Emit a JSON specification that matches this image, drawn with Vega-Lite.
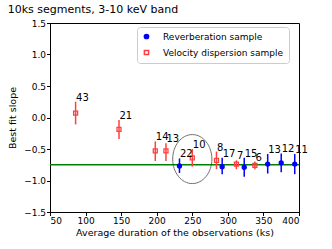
{
  "$schema": "https://vega.github.io/schema/vega-lite/v6.json",
  "autosize": "none",
  "width": 249,
  "height": 189,
  "padding": {"left": 50, "top": 23, "right": 33, "bottom": 37},
  "background": "white",
  "config": {
    "font": "DejaVu Sans",
    "view": {"stroke": "black", "strokeWidth": 1},
    "axis": {"grid": false, "domainColor": "black", "tickColor": "black", "labelColor": "black", "titleColor": "black", "labelFontSize": 9, "titleFontSize": 9.5, "titleFontWeight": "normal", "tickSize": 3.5, "labelPadding": 1, "labelOverlap": false},
    "legend": {"orient": "none", "fillColor": "white", "strokeColor": "#cccccc", "cornerRadius": 3, "padding": 5, "labelFontSize": 9, "labelColor": "black", "rowPadding": 5, "symbolSize": 18, "labelOffset": 12}
  },
  "title": {"text": "10ks segments, 3-10 keV band", "anchor": "start", "fontSize": 11, "fontWeight": "normal", "offset": 4, "color": "black"},
  "datasets": {
    "pts": [
      {"group": "Velocity dispersion sample", "x": 86, "y": 0.07, "hi": 0.25, "lo": -0.11, "label": "43"},
      {"group": "Velocity dispersion sample", "x": 147, "y": -0.19, "hi": -0.04, "lo": -0.34, "label": "21"},
      {"group": "Velocity dispersion sample", "x": 198, "y": -0.53, "hi": -0.38, "lo": -0.69, "label": "14"},
      {"group": "Velocity dispersion sample", "x": 213, "y": -0.53, "hi": -0.41, "lo": -0.69, "label": "13"},
      {"group": "Velocity dispersion sample", "x": 250, "y": -0.64, "hi": -0.5, "lo": -0.78, "label": "10"},
      {"group": "Velocity dispersion sample", "x": 284, "y": -0.68, "hi": -0.54, "lo": -0.82, "label": "8"},
      {"group": "Velocity dispersion sample", "x": 312, "y": -0.74, "hi": -0.68, "lo": -0.82, "label": "7"},
      {"group": "Velocity dispersion sample", "x": 338, "y": -0.76, "hi": -0.7, "lo": -0.82, "label": "6"},
      {"group": "Reverberation sample", "x": 232, "y": -0.77, "hi": -0.65, "lo": -0.88, "label": "22"},
      {"group": "Reverberation sample", "x": 292, "y": -0.78, "hi": -0.64, "lo": -0.9, "label": "17"},
      {"group": "Reverberation sample", "x": 323, "y": -0.79, "hi": -0.64, "lo": -0.94, "label": "15"},
      {"group": "Reverberation sample", "x": 356, "y": -0.74, "hi": -0.58, "lo": -0.89, "label": "13"},
      {"group": "Reverberation sample", "x": 375, "y": -0.72, "hi": -0.57, "lo": -0.87, "label": "12"},
      {"group": "Reverberation sample", "x": 394, "y": -0.74, "hi": -0.58, "lo": -0.9, "label": "11"}
    ],
    "ring": [{"x": 250, "y": -0.66}],
    "fit": [{"x": 50, "x2": 400, "y": -0.75}]
  },
  "encoding": {
    "x": {"field": "x", "type": "quantitative", "scale": {"domain": [50, 400], "nice": false, "zero": false}, "axis": {"title": "Average duration of the observations (ks)", "tickCount": 7, "titlePadding": 2, "labelOverlap": false}},
    "y": {"field": "y", "type": "quantitative", "scale": {"domain": [-1.5, 1.5], "nice": false, "zero": false}, "axis": {"title": "Best fit slope", "tickCount": 6, "format": ".1f", "titlePadding": 6, "labelOverlap": false}}
  },
  "layer": [
    {
      "data": {"name": "ring"},
      "mark": {"type": "point", "filled": false, "stroke": "#333333", "strokeWidth": 1, "size": 2401, "shape": "M 0 -1 C 0.442 -1 0.8 -0.552 0.8 0 C 0.8 0.552 0.442 1 0 1 C -0.442 1 -0.8 0.552 -0.8 0 C -0.8 -0.552 -0.442 -1 0 -1 Z"}
    },
    {
      "data": {"name": "fit"},
      "mark": {"type": "rule", "color": "#008000", "strokeWidth": 1.5},
      "encoding": {"x2": {"field": "x2"}}
    },
    {
      "data": {"name": "pts"},
      "mark": {"type": "rule", "strokeWidth": 1.5},
      "encoding": {
        "y": {"field": "lo", "type": "quantitative"},
        "y2": {"field": "hi"},
        "stroke": {"field": "group", "type": "nominal", "scale": {"domain": ["Reverberation sample", "Velocity dispersion sample"], "range": ["#0000ff", "#ff4040"]}, "legend": {"title": null, "legendX": 87, "legendY": 4}}
      }
    },
    {
      "data": {"name": "pts"},
      "mark": {"type": "point", "strokeWidth": 1.3, "size": 16, "opacity": 1},
      "encoding": {
        "stroke": {"field": "group", "type": "nominal", "legend": {"title": null, "legendX": 87, "legendY": 4}},
        "fill": {"field": "group", "type": "nominal", "scale": {"domain": ["Reverberation sample", "Velocity dispersion sample"], "range": ["#0000ff", "rgba(255,255,255,0)"]}, "legend": {"title": null, "legendX": 87, "legendY": 4}},
        "shape": {"field": "group", "type": "nominal", "scale": {"domain": ["Reverberation sample", "Velocity dispersion sample"], "range": ["circle", "square"]}, "legend": {"title": null, "legendX": 87, "legendY": 4}}
      }
    },
    {
      "data": {"name": "pts"},
      "mark": {"type": "text", "align": "left", "baseline": "bottom", "fontSize": 10, "color": "black", "dx": 0.5, "dy": 1},
      "encoding": {
        "y": {"field": "hi", "type": "quantitative"},
        "text": {"field": "label"}
      }
    }
  ]
}
